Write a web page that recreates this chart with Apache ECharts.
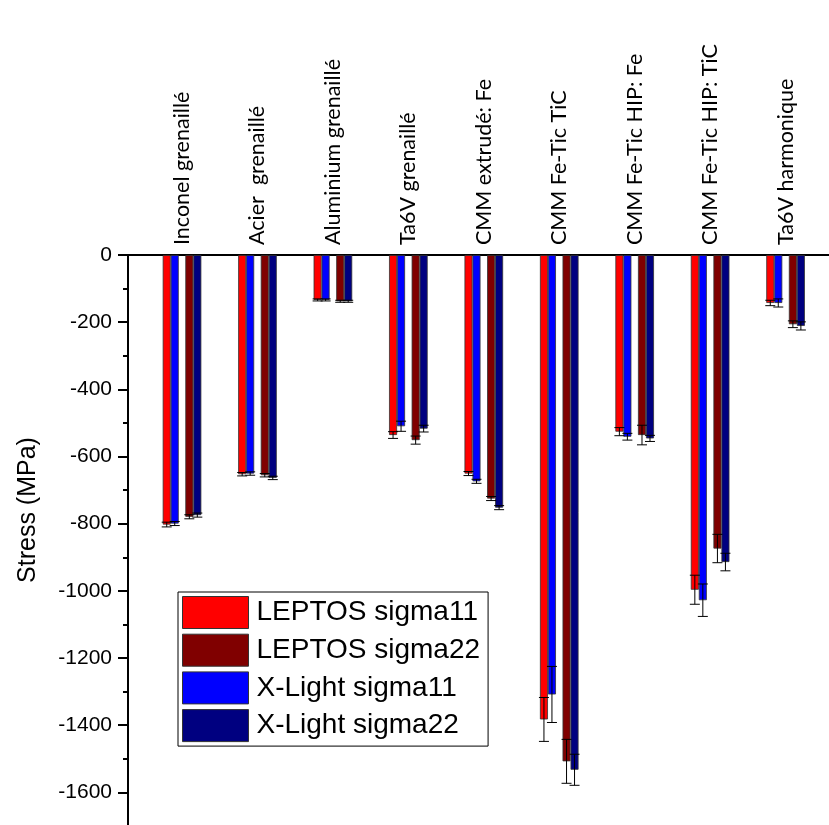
<!DOCTYPE html>
<html>
<head>
<meta charset="utf-8">
<script src="https://cdn.jsdelivr.net/npm/echarts@6/dist/echarts.min.js"></script>
<style>
  html, body { margin: 0; padding: 0; background: #fff; overflow: hidden; }
  #chart { width: 829px; height: 870px; }
</style>
</head>
<body>
<div id="chart"></div>
<script>
// categories (top axis)
const categories = [
  'Inconel grenaillé', 'Acier  grenaillé', 'Aluminium grenaillé', 'Ta6V grenaillé',
  'CMM extrudé: Fe', 'CMM Fe-Tic TiC', 'CMM Fe-Tic HIP: Fe', 'CMM Fe-Tic HIP: TiC', 'Ta6V harmonique'
]
// stress values (MPa)
const leptos11 = [-798, -649, -133, -533, -647, -1375, -523, -991, -142]
const xlight11 = [-795, -647, -133, -507, -670, -1301, -538, -1022, -142]
const leptos22 = [-775, -652, -137, -548, -721, -1499, -533, -869, -205]
const xlight22 = [-770, -660, -137, -514, -748, -1524, -543, -909, -210]
// error bars (+/-)
const leptos11Err = [7, 5, 3, 10, 6, 65, 12, 43, 8]
const xlight11Err = [6, 5, 3, 15, 6, 83, 10, 48, 12]
const leptos22Err = [6, 5, 3, 12, 6, 65, 29, 42, 10]
const xlight22Err = [6, 5, 3, 10, 6, 46, 9, 26, 12]
// y ticks
const yMin = -1800
const yMax = 0
const yStep = 200

const chart = echarts.init(document.getElementById('chart'))

function barSeries(name, data, color) {
  return {
    name: name,
    type: 'bar',
    xAxisIndex: 1,
    yAxisIndex: 1,
    data: data,
    barWidth: 8,
    barGap: '0%',
    itemStyle: { color: color, borderColor: '#333', borderWidth: 0.8 },
  }
}

function errSeries(vals, errs, offset) {
  return {
    type: 'custom',
    xAxisIndex: 1,
    yAxisIndex: 1,
    z: 5,
    silent: true,
    data: vals.map((v, i) => [i, v, errs[i]]),
    renderItem: function (params, api) {
      const c = api.coord([api.value(0), api.value(1)])
      const e = api.size([0, api.value(2)])[1]
      const x = c[0] + offset
      const y = c[1]
      const hw = 5
      const st = { stroke: '#000', lineWidth: 1 }
      return {
        type: 'group',
        children: [
          { type: 'line', shape: { x1: x, y1: y - e, x2: x, y2: y + e }, style: st },
          { type: 'line', shape: { x1: x - hw, y1: y - e, x2: x + hw, y2: y - e }, style: st },
          { type: 'line', shape: { x1: x - hw, y1: y + e, x2: x + hw, y2: y + e }, style: st },
        ],
      }
    },
  }
}

const option = {
  animation: false,
  backgroundColor: '#fff',
  grid: [
    { left: 128, right: 0, top: 255, height: 608 },   // axes frame
    { left: 144.3, width: 679, top: 255, height: 608 }, // bars
  ],
  xAxis: [
    {
      gridIndex: 0,
      type: 'value',
      min: 0,
      max: 1,
      position: 'top',
      axisLine: { show: true, onZero: false, lineStyle: { color: '#000', width: 2 } },
      axisTick: { show: false },
      axisLabel: { show: false },
      splitLine: { show: false },
    },
    {
      gridIndex: 1,
      type: 'category',
      data: categories,
      position: 'top',
      axisLine: { show: false },
      axisTick: { show: false },
      axisLabel: {
        rotate: 90,
        margin: 10,
        interval: 0,
        fontSize: 21.5,
        fontFamily: 'Lato',
        color: '#000',
      },
    },
  ],
  yAxis: [
    {
      gridIndex: 0,
      type: 'value',
      min: yMin,
      max: yMax,
      interval: yStep,
      axisLine: { show: true, onZero: false, lineStyle: { color: '#000', width: 2 } },
      axisTick: { show: true, inside: false, length: 10, lineStyle: { color: '#000', width: 2 } },
      minorTick: { show: true, splitNumber: 2, length: 5, lineStyle: { color: '#000', width: 2 } },
      axisLabel: {
        margin: 16,
        fontSize: 21,
        fontFamily: 'Liberation Sans',
        color: '#000',
        formatter: (v) => String(v),
      },
      splitLine: { show: false },
    },
    {
      gridIndex: 1,
      type: 'value',
      min: yMin,
      max: yMax,
      interval: yStep,
      show: false,
      splitLine: { show: false },
    },
  ],
  legend: {
    data: ['LEPTOS sigma11', 'LEPTOS sigma22', 'X-Light sigma11', 'X-Light sigma22'],
    orient: 'vertical',
    left: 178,
    top: 592,
    padding: [4, 8, 4, 4],
    itemWidth: 66,
    itemHeight: 32,
    itemGap: 4.7,
    icon: 'rect',
    borderColor: '#000',
    borderWidth: 1,
    itemStyle: { borderColor: '#333', borderWidth: 1 },
    textStyle: { fontSize: 28, fontFamily: 'Liberation Sans', color: '#000', padding: [0, 0, 0, 3] },
  },
  graphic: [
    {
      type: 'text',
      x: 28,
      y: 510,
      rotation: Math.PI / 2,
      style: {
        text: 'Stress (MPa)',
        fontSize: 25,
        fontFamily: 'Liberation Sans',
        fill: '#000',
        align: 'center',
        verticalAlign: 'middle',
      },
    },
  ],
  series: [
    barSeries('LEPTOS sigma11', leptos11, '#ff0000'),
    barSeries('X-Light sigma11', xlight11, '#0000ff'),
    {
      type: 'bar',
      xAxisIndex: 1,
      yAxisIndex: 1,
      data: categories.map(() => '-'),
      barWidth: 6.6,
      barGap: '0%',
      itemStyle: { color: 'transparent' },
      silent: true,
    },
    barSeries('LEPTOS sigma22', leptos22, '#800000'),
    barSeries('X-Light sigma22', xlight22, '#000080'),
    errSeries(leptos11, leptos11Err, -15.3),
    errSeries(xlight11, xlight11Err, -7.3),
    errSeries(leptos22, leptos22Err, 7.3),
    errSeries(xlight22, xlight22Err, 15.3),
  ],
}

chart.setOption(option)
</script>
</body>
</html>
